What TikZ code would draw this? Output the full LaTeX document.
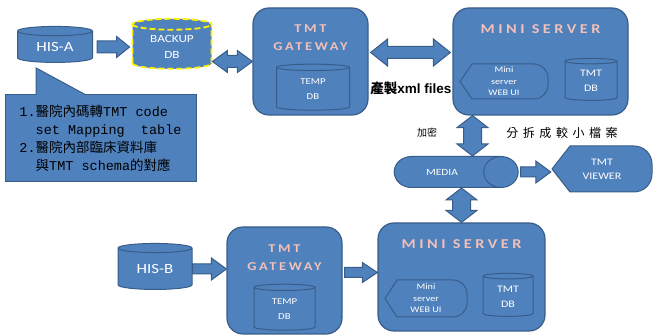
\documentclass[tikz,border=0pt]{standalone}
\usepackage{fontspec}
\setmainfont{Carlito}
\setmonofont{Liberation Mono}
\newfontfamily\cjk{Noto Sans CJK TC}
\newfontfamily\arial{Liberation Sans}
\newfontfamily\lbl[FakeStretch=1.2]{Carlito}
\newfontfamily\wide[LetterSpace=22,FakeStretch=1.2]{Carlito}
\newcommand\zh[1]{{\cjk #1}}
\usetikzlibrary{shapes.geometric,calc,positioning}

\definecolor{boxblue}{RGB}{79,129,189}
\definecolor{edgeblue}{RGB}{56,93,138}
\definecolor{titlepink}{RGB}{242,192,184}

\tikzset{
  blk/.style={fill=boxblue, draw=edgeblue, line width=1pt},
  bigbox/.style={blk, line width=1.2pt, rounded corners=16pt},
  db/.style={blk, cylinder, shape border rotate=90, aspect=0.25, text=white,
    align=center, inner sep=0pt},
  tag/.style={text=white, align=center, inner sep=0pt},
  title/.style={text=titlepink, align=center, inner sep=0pt,
    font=\wide\bfseries\fontsize{12}{18}\selectfont},
  % pointed on the left, rounded on the right
  screen/.style 2 args={path picture={
    \filldraw[blk]
      ([xshift=1pt]path picture bounding box.west)
      -- ([xshift=#1,yshift=-1pt]path picture bounding box.north west)
      -- ([yshift=-1pt]path picture bounding box.north)
      [rounded corners=#2] -- ([xshift=-1pt,yshift=-1pt]path picture bounding box.north east)
      -- ([xshift=-1pt,yshift=1pt]path picture bounding box.south east)
      -- ([yshift=1pt]path picture bounding box.south)
      [sharp corners] -- ([xshift=#1,yshift=1pt]path picture bounding box.south west)
      -- cycle;}},
}

\begin{document}
\begin{tikzpicture}[x=1pt, y=-1pt]
  % fat block arrows: #3 shaft half width, #4 head half width, #5 head length
  \def\fatarrow#1#2#3#4#5{%
    \coordinate (hd) at ($(#2)!#5pt!(#1)$);
    \filldraw[blk] ($(#1)!#3pt!90:(#2)$) -- ($(hd)!#3pt!90:(#2)$) -- ($(hd)!#4pt!90:(#2)$)
      -- (#2) -- ($(hd)!#4pt!-90:(#2)$) -- ($(hd)!#3pt!-90:(#2)$) -- ($(#1)!#3pt!-90:(#2)$) -- cycle;}
  \def\fatdarrow#1#2#3#4#5{%
    \coordinate (ha) at ($(#1)!#5pt!(#2)$);
    \coordinate (hb) at ($(#2)!#5pt!(#1)$);
    \filldraw[blk] (#1) -- ($(ha)!#4pt!90:(#2)$) -- ($(ha)!#3pt!90:(#2)$) -- ($(hb)!#3pt!90:(#2)$)
      -- ($(hb)!#4pt!90:(#2)$) -- (#2) -- ($(hb)!#4pt!-90:(#2)$) -- ($(hb)!#3pt!-90:(#2)$)
      -- ($(ha)!#3pt!-90:(#2)$) -- ($(ha)!#4pt!-90:(#2)$) -- cycle;}

  % ---- top row ----
  \node[db, minimum width=75pt, minimum height=36pt, font=\lbl\fontsize{14}{16}\selectfont] (hisa) at (55,47) {HIS-A};
  \node[db, minimum width=79pt, minimum height=50pt, draw=yellow, line width=1.8pt,
    dash pattern=on 6pt off 3pt, font=\lbl\fontsize{11}{16}\selectfont] (backup) at (172,47) {BACKUP\\DB};

  \node[bigbox, minimum width=115pt, minimum height=107pt] (gw1) at (310.5,61.5) {};
  \node[title, below=17pt of gw1.north] (gw1t) {TMT\\GATEWAY};
  \node[db, minimum width=73pt, minimum height=46pt, font=\lbl\fontsize{9}{15}\selectfont] (temp1) at (313,89) {TEMP\\DB};

  \node[bigbox, minimum width=175pt, minimum height=107pt] (ms1) at (540.5,61.5) {};
  \node[title, font=\wide\bfseries\addfontfeatures{LetterSpace=26}\fontsize{13.5}{15}\selectfont,
    below=17pt of ms1.north] (ms1t) {MINI SERVER};
  \node[screen={13pt}{14pt}, tag, minimum width=90pt, minimum height=37pt,
    font=\lbl\fontsize{8.5}{11.5}\selectfont] (web1) at (504,81.5) {Mini\\server\\WEB UI};
  \node[db, minimum width=52pt, minimum height=42pt, font=\lbl\fontsize{10}{15}\selectfont] (tmtdb1) at (591,81) {TMT\\DB};

  \node[inner sep=0pt, font=\arial\bfseries\fontsize{13.5}{15}\selectfont] (xml) at (411,88) {\zh{產製}xml files};

  % ---- note with its pointer up to HIS-A ----
  \node[blk, minimum width=191pt, minimum height=87pt, align=left,
    font=\ttfamily\fontsize{13.5}{18}\selectfont] (note) at (100.5,138.5)
    {1.\zh{醫院內碼轉}TMT code\\
     \phantom{1.}set Mapping\ \ table\\
     2.\zh{醫院內部臨床資料庫}\\
     \phantom{2.}\zh{與}TMT schema\zh{的對應}};
  \coordinate (tip) at ($(hisa.south)+(-19,5)$);
  \coordinate (nb1) at (tip |- note.north);
  \coordinate (nb2) at ($(note.north west)!0.42!(note.north east)$);
  \fill[boxblue] ($(nb1)+(0,1.5)$) -- (tip) -- (nb2) -- ($(nb2)+(0,1.5)$) -- cycle;
  \draw[edgeblue, line width=1pt] (nb1) -- (tip) -- (nb2);

  % ---- media ----
  \node[blk, cylinder, aspect=2.7, minimum width=31pt, minimum height=124pt, text=white,
    font=\lbl\fontsize{9.5}{12}\selectfont] (media) at (442,172) {MEDIA};
  \node[screen={19pt}{18pt}, tag, minimum width=102pt, minimum height=48pt,
    font=\lbl\fontsize{10}{14}\selectfont] (viewer) at (602,169) {TMT\\VIEWER};
  \node[font=\cjk\fontsize{10}{12}\selectfont, inner sep=0pt] (enc) at (427,133) {加密};
  \node[font=\cjk\addfontfeatures{LetterSpace=38}\fontsize{12}{14}\selectfont, inner sep=0pt] (split) at (562,133) {分拆成較小檔案};

  % ---- bottom row ----
  \node[db, minimum width=74pt, minimum height=46pt, font=\lbl\fontsize{14}{16}\selectfont] (hisb) at (155,269) {HIS-B};

  \node[bigbox, minimum width=115pt, minimum height=107pt] (gw2) at (284.5,280.5) {};
  \node[title, below=18pt of gw2.north] (gw2t) {TMT\\GATEWAY};
  \node[db, minimum width=61pt, minimum height=46pt, font=\lbl\fontsize{9}{15}\selectfont] (temp2) at (284.5,309) {TEMP\\DB};

  \node[bigbox, minimum width=167pt, minimum height=108pt] (ms2) at (461.5,277) {};
  \node[title, font=\wide\bfseries\addfontfeatures{LetterSpace=26}\fontsize{13.5}{15}\selectfont,
    below=17pt of ms2.north] (ms2t) {MINI SERVER};
  \node[screen={13pt}{14pt}, tag, minimum width=84pt, minimum height=39pt,
    font=\lbl\fontsize{8.5}{11.5}\selectfont] (web2) at (426,298.5) {Mini\\server\\WEB UI};
  \node[db, minimum width=50pt, minimum height=43pt, font=\lbl\fontsize{10}{15}\selectfont] (tmtdb2) at (508,296.5) {TMT\\DB};

  % ---- arrows ----
  \coordinate (a1) at ([xshift=4pt]hisa.east);
  \coordinate (a2) at ([xshift=-2pt]backup.west);
  \fatarrow{a1}{a2}{6}{10.5}{13}
  \coordinate (b1) at (backup.east |- gw1.west);
  \fatdarrow{b1}{gw1.west}{6}{11}{15}
  \coordinate (c1) at ($(gw1.east)+(2,-9)$);
  \coordinate (c2) at ($(ms1.west)+(-2,-9)$);
  \fatdarrow{c1}{c2}{6}{13.5}{17}
  \coordinate (d1) at ($(ms1.south)+(-68,0)$);
  \coordinate (d0) at (d1 |- media.north);
  \fatdarrow{d1}{d0}{9}{15.5}{12}
  \coordinate (e1) at (media.south -| ms2.north);
  \fatdarrow{e1}{ms2.north}{9}{15.5}{12}
  \coordinate (f1) at ([xshift=2pt]media.east);
  \coordinate (f2) at (viewer.west |- f1);
  \fatarrow{f1}{f2}{5}{11}{15}
  \coordinate (g2) at (gw2.west |- hisb.east);
  \fatarrow{hisb.east}{g2}{5}{11}{15}
  \coordinate (k1) at ($(gw2.east)+(2,-8)$);
  \coordinate (k2) at (ms2.west |- k1);
  \fatarrow{k1}{k2}{5}{10}{15}

  \path[use as bounding box] (0,0) rectangle (654,336);
\end{tikzpicture}
\end{document}
